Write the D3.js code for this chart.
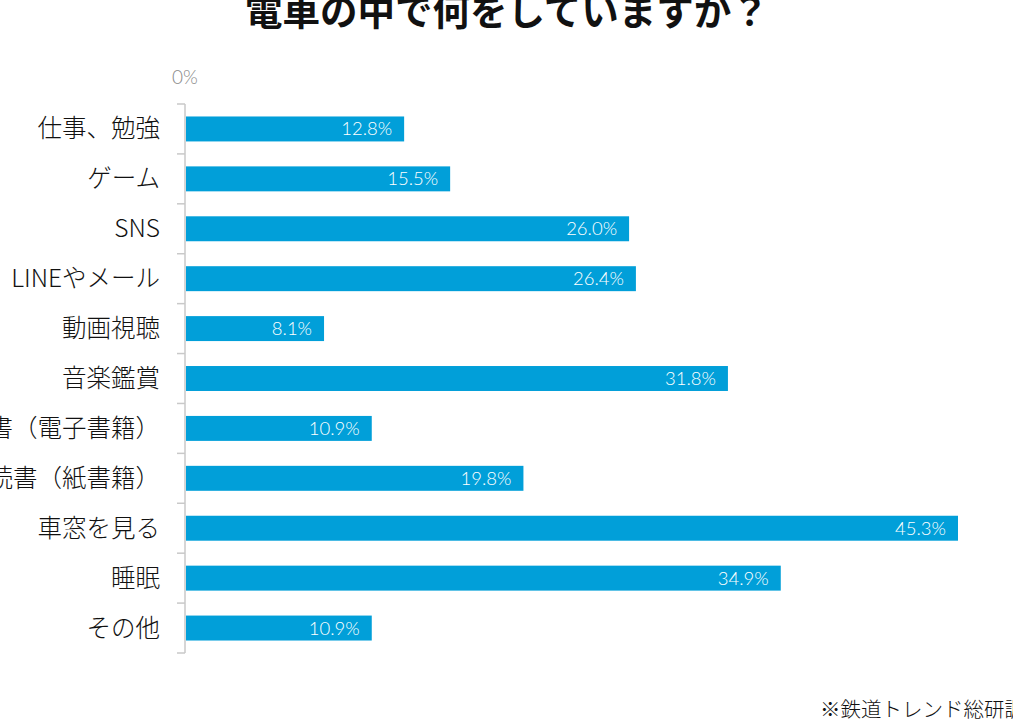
<!DOCTYPE html>
<html><head><meta charset="utf-8">
<script src="https://cdn.jsdelivr.net/npm/d3@7"></script>
<style>
html,body{margin:0;padding:0;background:#fff;overflow:hidden;}
svg{display:block;}
</style></head>
<body>
<svg id="c" width="1013" height="719"></svg>
<script>
const title = "電車の中で何をしていますか？";
const categories = ["仕事、勉強","ゲーム","SNS","LINEやメール","動画視聴","音楽鑑賞","読書（電子書籍）","読書（紙書籍）","車窓を見る","睡眠","その他"];
const values = [12.8,15.5,26.0,26.4,8.1,31.8,10.9,19.8,45.3,34.9,10.9];
const xTicks = [0];
const source = "※鉄道トレンド総研調べ";

const svg = d3.select("#c");
const jp = "'Noto Sans CJK JP','Noto Sans',sans-serif";
const num = "Lato,'Open Sans',sans-serif";

const x = d3.scaleLinear().domain([0,45.3]).range([186,958]);
const y = d3.scaleBand().domain(categories).range([104,653]).paddingInner(0.5).paddingOuter(0.25);

svg.append("text").attr("x",245).attr("y",25).attr("font-family",jp).attr("font-weight",700)
  .attr("font-size",37.5).attr("fill","#111").text(title);

const g = svg.append("g");
g.append("line").attr("x1",185).attr("x2",185).attr("y1",104).attr("y2",653).attr("stroke","#c9c9c9").attr("stroke-width",1.5);
const bounds = d3.range(categories.length+1).map(i=>104 + i*(549/categories.length));
g.selectAll("line.t").data(bounds).join("line").attr("class","t")
  .attr("x1",177).attr("x2",185).attr("y1",d=>d).attr("y2",d=>d).attr("stroke","#c9c9c9").attr("stroke-width",1.5);

svg.selectAll("text.xt").data(xTicks).join("text").attr("class","xt")
  .attr("x",d=>x(d)-1).attr("y",84).attr("text-anchor","middle").attr("font-family",num).attr("font-weight",300)
  .attr("font-size",19).attr("fill","#8a8a8a").text(d=>d+"%");

svg.selectAll("rect.bar").data(values).join("rect").attr("class","bar")
  .attr("x",x(0)).attr("y",(d,i)=>y(categories[i]))
  .attr("width",d=>x(d)-x(0)).attr("height",y.bandwidth()).attr("fill","#019fd9");

svg.selectAll("text.v").data(values).join("text").attr("class","v")
  .attr("x",d=>x(d)-12).attr("y",(d,i)=>y(categories[i])+y.bandwidth()/2+6.5)
  .attr("text-anchor","end").attr("font-family",num).attr("font-weight",300).attr("font-size",18.5)
  .attr("fill","#fff").text(d=>d.toFixed(1)+"%");

svg.selectAll("text.cat").data(categories).join("text").attr("class","cat")
  .attr("x",160).attr("y",d=>y(d)+y.bandwidth()/2+8.5)
  .attr("text-anchor","end").attr("font-family",jp).attr("font-weight",300).attr("font-size",24.5).attr("fill","#111").text(d=>d);

svg.append("text").attr("x",820).attr("y",717).attr("font-family",jp).attr("font-weight",300).attr("font-size",20.5)
  .attr("fill","#111").text(source);
</script>
</body></html>
